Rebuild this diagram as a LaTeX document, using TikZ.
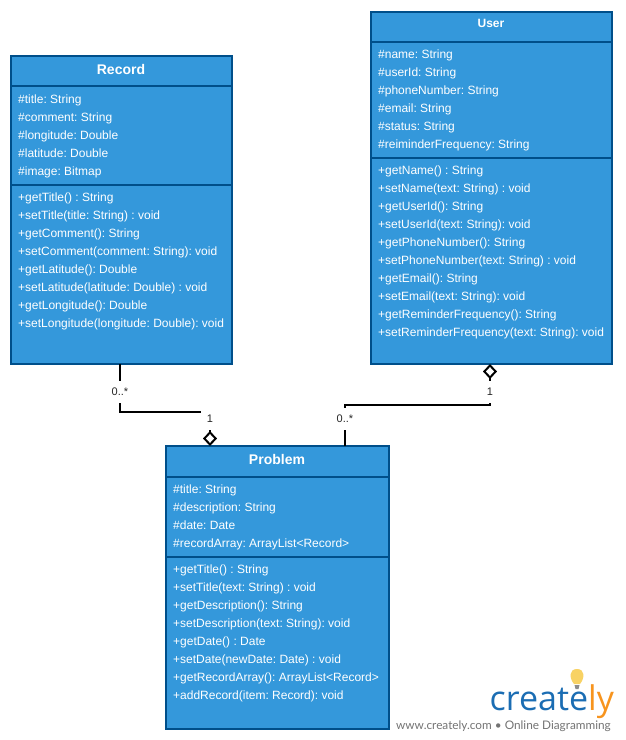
\documentclass[tikz,border=0pt]{standalone}
\usepackage{fontspec}
\setmainfont{Liberation Sans}
\newfontfamily\logofont{Open Sans}
\newfontfamily\footfont{Lato}
\usepackage{xcolor}
\usetikzlibrary{arrows.meta}
\definecolor{classblue}{HTML}{3498DB}
\definecolor{classedge}{HTML}{004F8A}
\definecolor{logoblue}{HTML}{1B6DB3}
\definecolor{logoorange}{HTML}{F7941E}
\definecolor{logobulb}{HTML}{F8D264}
\frenchspacing
\tikzset{
  classbox/.style={draw=classedge,fill=classblue,line width=2pt,inner sep=0pt,outer sep=0pt,anchor=north west},
  classdiv/.style={draw=classedge,line width=2pt},
  classtitle/.style={text=white,font=\bfseries\fontsize{14}{16}\selectfont},
  classtext/.style={text=white,anchor=north west,align=left,inner sep=0pt,font=\fontsize{12}{18}\selectfont},
  assoc/.style={draw=black,line width=2pt},
  aggr/.style={assoc,{Diamond[open,length=15pt,width=14pt]}-},
  mult/.style={fill=white,inner sep=0pt,minimum width=18pt,minimum height=22pt,text=black!85,font=\fontsize{11}{13}\selectfont}
}
\begin{document}
\begin{tikzpicture}[x=1pt,y=-1pt]
  \useasboundingbox (0,0) rectangle (625,740);
  % classes
  \node[classbox,minimum width=221pt,minimum height=308pt] (record) at (11,56) {};
  \node[classbox,minimum width=241pt,minimum height=352pt] (user) at (371,12) {};
  \node[classbox,minimum width=223pt,minimum height=283pt] (problem) at (166,446) {};
  \draw[classdiv] (11,86) -- (232,86);
  \draw[classdiv] (11,185) -- (232,185);
  \draw[classdiv] (371,42) -- (612,42);
  \draw[classdiv] (371,158) -- (612,158);
  \draw[classdiv] (166,477) -- (389,477);
  \draw[classdiv] (166,557) -- (389,557);
  \node[classtitle] (recordname) at (121,69) {Record};
  \node[classtitle,font=\bfseries\fontsize{12}{14}\selectfont] (username) at (491,23) {User};
  \node[classtitle] (problemname) at (277,459) {Problem};
  % record
  \node[classtext] (recordattrs) at (18,95) {\#title: String\\\#comment: String\\\#longitude: Double\\\#latitude: Double\\\#image: Bitmap};
  \node[classtext] (recordops) at (18,193) {+getTitle() : String\\+setTitle(title: String) : void\\+getComment(): String\\+setComment(comment: String): void\\+getLatitude(): Double\\+setLatitude(latitude: Double) : void\\+getLongitude(): Double\\+setLongitude(longitude: Double): void};
  % user
  \node[classtext] (userattrs) at (378,50) {\#name: String\\\#userId: String\\\#phoneNumber: String\\\#email: String\\\#status: String\\\#reiminderFrequency: String};
  \node[classtext] (userops) at (378,166) {+getName() : String\\+setName(text: String) : void\\+getUserId(): String\\+setUserId(text: String): void\\+getPhoneNumber(): String\\+setPhoneNumber(text: String) : void\\+getEmail(): String\\+setEmail(text: String): void\\+getReminderFrequency(): String\\+setReminderFrequency(text: String): void};
  % problem
  \node[classtext] (problemattrs) at (173,485) {\#title: String\\\#description: String\\\#date: Date\\\#recordArray: ArrayList<Record>};
  \node[classtext] (problemops) at (173,565) {+getTitle() : String\\+setTitle(text: String) : void\\+getDescription(): String\\+setDescription(text: String): void\\+getDate() : Date\\+setDate(newDate: Date) : void\\+getRecordArray(): ArrayList<Record>\\+addRecord(item: Record): void};
  % associations
  \coordinate (recordfoot) at (120,364);
  \coordinate (userfoot) at (490,364);
  \coordinate (problemleft) at (210,446);
  \coordinate (problemright) at (345,446);
  \draw[aggr] (problemleft) -- (210,412) -- (120,412) -- (recordfoot);
  \draw[aggr] (userfoot) -- (490,405) -- (345,405) -- (problemright);
  \node[mult] (recordmany) at (120,391.5) {0..*};
  \node[mult] (recordone) at (210,419) {1};
  \node[mult] (userone) at (490,391.5) {1};
  \node[mult] (usermany) at (345,419) {0..*};
  % logo
  \fill[logobulb] (577,669) .. controls (569,669) and (569,678) .. (574,684) -- (580,684) .. controls (585,678) and (585,669) .. (577,669) -- cycle;
  \fill[black!45] (574.5,685) -- (579.5,685) -- (578.5,689) -- (575.5,689) -- cycle;
  \node[anchor=base west,inner sep=0pt,font=\logofont\fontsize{34}{36}\selectfont,text=logoblue] (logo) at (489.5,710) {create\textcolor{logoorange}{ly}};
  \node[anchor=base east,inner sep=0pt,text=black!55,font=\footfont\fontsize{11.8}{14}\selectfont] (logourl) at (611,729) {www.creately.com • Online Diagramming};
\end{tikzpicture}
\end{document}
